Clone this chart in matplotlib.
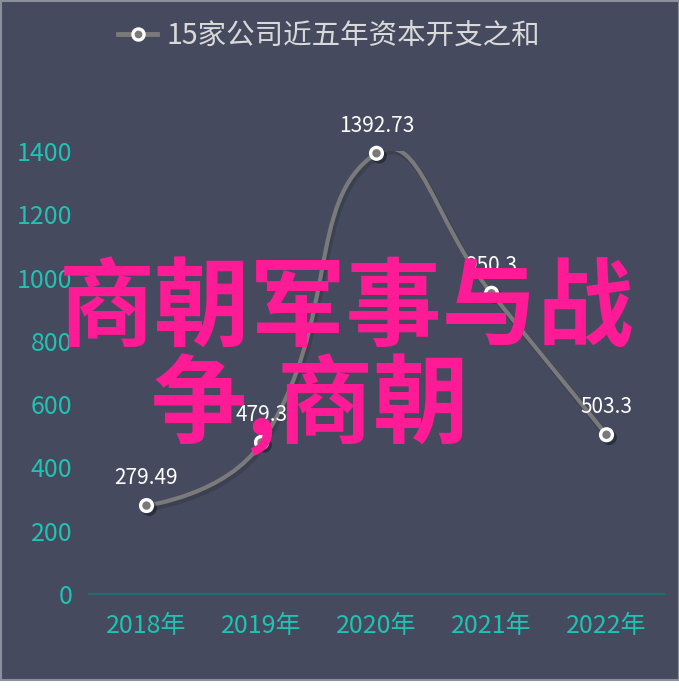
import numpy as np
import matplotlib
matplotlib.use("Agg")
import matplotlib.pyplot as plt
import matplotlib.patheffects as pe
import matplotlib.transforms as mtransforms
from matplotlib.path import Path
from matplotlib.patches import PathPatch, Rectangle
from matplotlib.lines import Line2D

plt.rcParams["font.family"] = ["Noto Sans CJK SC", "DejaVu Sans"]

years = ["2018年", "2019年", "2020年", "2021年", "2022年"]
capex = [279.49, 479.3, 1392.73, 950.3, 503.3]
series_name = "15家公司近五年资本开支之和"
yticks = [0, 200, 400, 600, 800, 1000, 1200, 1400]
overlay_lines = ["商朝军事与战", "争,商朝"]

BG = "#454a5e"
TEAL = "#1fc3b3"
LINE = "#7a7a7a"
PINK = "#ff1a96"

W, H = 679, 693
fig = plt.figure(figsize=(W / 100, H / 100), dpi=100, facecolor="white")
fig.patches.append(Rectangle((0.5 / W, 13 / H), (W - 1) / W, (H - 13.5) / H,
                             transform=fig.transFigure, facecolor=BG,
                             edgecolor="#8c8f9c", linewidth=1.5, zorder=-10))

ax = fig.add_axes([89 / W, 99 / H, 575 / W, 443 / H])
ax.set_facecolor("none")
ax.set_xlim(-0.5, len(years) - 0.5)
ax.set_ylim(0, 1400)
for s in ["top", "right", "left"]:
    ax.spines[s].set_visible(False)
ax.spines["bottom"].set_color("#1d6f70")
ax.spines["bottom"].set_linewidth(1.5)
ax.set_xticks(range(len(years)))
ax.set_xticklabels(years)
ax.set_yticks(yticks)
ax.tick_params(axis="both", length=0, colors=TEAL, labelsize=18)
ax.tick_params(axis="y", pad=12)
ax.tick_params(axis="x", pad=14)

# smooth curve like echarts: cubic bezier, control points worked out in pixels
xs = np.arange(len(capex), dtype=float)
pts = ax.transData.transform(np.column_stack([xs, capex]))
smooth = 0.5
cps = []
for i in range(len(pts)):
    if i == 0 or i == len(pts) - 1:
        cps.append((pts[i], pts[i]))
        continue
    prev, cur, nxt = pts[i - 1], pts[i], pts[i + 1]
    v = nxt - prev
    l0 = np.hypot(*(cur - prev))
    l1 = np.hypot(*(nxt - cur))
    r = l1 / (l0 + l1)
    cps.append((cur - v * smooth * (1 - r), cur + v * smooth * r))
verts = [pts[0]]
codes = [Path.MOVETO]
for i in range(1, len(pts)):
    verts += [cps[i - 1][1], cps[i][0], pts[i]]
    codes += [Path.CURVE4] * 3
verts = ax.transData.inverted().transform(np.array(verts))
path = Path(verts, codes)

shadow = PathPatch(path, facecolor="none", edgecolor="black",
                   linewidth=4, alpha=0.12, zorder=2, capstyle="round")
shadow.set_transform(ax.transData + mtransforms.ScaledTranslation(2 / 100, -3 / 100, fig.dpi_scale_trans))
ax.add_patch(shadow)
ax.add_patch(PathPatch(path, facecolor="none", edgecolor=LINE,
                       linewidth=3, zorder=3, capstyle="round"))

ax.plot(xs, capex, linestyle="none", marker="o", markersize=8.5,
        markerfacecolor=LINE, markeredgecolor="white", markeredgewidth=2.4,
        zorder=4, clip_on=False,
        path_effects=[pe.SimpleLineShadow(offset=(2, -2), alpha=0.35), pe.Normal()])

for x, v in zip(xs, capex):
    ax.annotate(f"{v:g}", (x, v), xytext=(0, 12), textcoords="offset points",
                ha="center", va="bottom", color="white", fontsize=15,
                annotation_clip=False, zorder=5)

handle = Line2D([], [], color=LINE, linewidth=3.5, marker="o", markersize=8,
                markerfacecolor=LINE, markeredgecolor="white", markeredgewidth=2.4)
fig.legend([handle], [series_name], loc="center", bbox_to_anchor=(0.485, 1 - 36 / H),
           frameon=False, fontsize=20.5, labelcolor="#d9d9d9",
           handlelength=1.35, handletextpad=0.35)

fig.text(346 / W, 1 - 310 / H, overlay_lines[0], color=PINK, fontsize=69,
         fontweight="bold", ha="center", va="center", zorder=20)
fig.text(310 / W, 1 - 405 / H, overlay_lines[1], color=PINK, fontsize=69,
         fontweight="bold", ha="center", va="center", zorder=20)

fig.savefig("out.png", dpi=100, facecolor="white")
